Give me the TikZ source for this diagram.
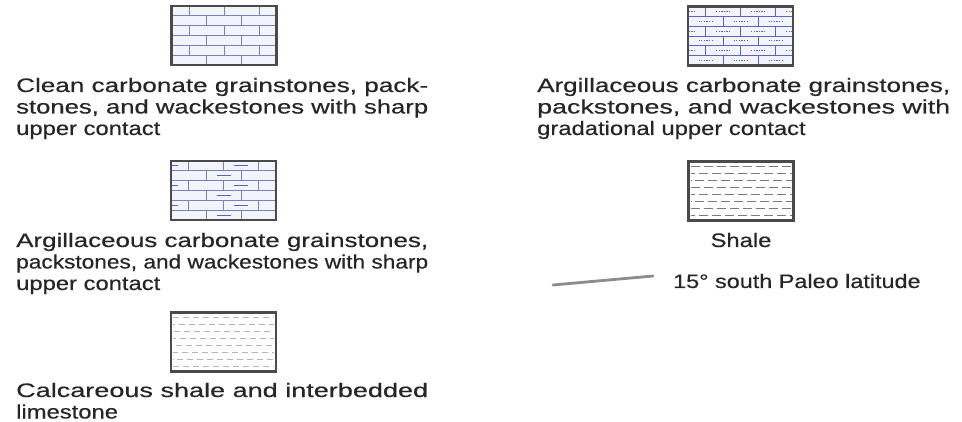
\documentclass[tikz,border=0pt]{standalone}
\usepackage{fontspec}
\setmainfont{Liberation Sans}
\usepackage{graphicx}
\usetikzlibrary{positioning}
\definecolor{legink}{HTML}{262626}
\definecolor{brickline}{HTML}{7A80B8}
\definecolor{clayline}{HTML}{5A64B8}
\definecolor{brickfill}{HTML}{F3F3FB}
\definecolor{boxframe}{HTML}{4A4A4A}
\definecolor{shaledash}{HTML}{7A7A7A}
\definecolor{calcdash}{HTML}{B4B4B4}
\definecolor{latgray}{HTML}{8C8C8C}

% text: Arial-like, stretched sideways as in the scan
\newcommand{\legfont}{\fontsize{19.5}{21.5}\selectfont\addfontfeatures{FakeBold=0.4}}
\newcommand{\wide}[1]{\scalebox{1.22}[1]{#1}}
\newcommand{\jline}[1]{\resizebox{\linewidth}{\height}{#1}}
\newcommand{\legtext}[2]{\parbox[t]{#1}{\legfont #2}}

% patterns, drawn in a 105 x 59 box, y downwards
\newcommand{\brickrows}[1]{%
  \foreach \r in {1,...,5}
    \draw[#1, line width=0.8pt] (0,\r*9.83) -- (105,\r*9.83);
  \foreach \r in {0,...,5} {
    \pgfmathsetmacro{\off}{mod(\r,2)*17.5+17.5}
    \foreach \k in {0,1,2}
      \draw[#1, line width=0.8pt] (\off+35*\k,\r*9.83) -- ++(0,9.83);
  }}
\newcommand{\claydash}{%
  \foreach \r in {0,...,5} {
    \pgfmathsetmacro{\off}{mod(\r,2)*17.5}
    \foreach \k in {0,1,2,3} {
      \pgfmathtruncatemacro{\odd}{mod(\r+\k,2)}
      \ifnum\odd=0
        \draw[clayline, line width=0.8pt] (\off-7+35*\k,\r*9.83+4.9) -- ++(14,0);
      \fi
    }
  }}
\newcommand{\claydots}{%
  \foreach \r in {0,...,5} {
    \pgfmathsetmacro{\off}{mod(\r,2)*17.5}
    \foreach \k in {0,1,2,3}
      \draw[clayline, line width=1.1pt, dash pattern=on 1.3pt off 1.3pt]
        (\off-7+35*\k,\r*9.83+4.9) -- ++(14,0);
  }}
\newcommand{\shalerows}[2]{%
  \foreach \r in {0,...,7}
    \draw[#1, line width=0.9pt, dash pattern=on #2pt off 4pt,
          dash phase=\r*4.3pt] (2,5+\r*7) -- (103,5+\r*7);}
\newcommand{\fillpattern}[2]{%
  \begin{scope}[shift={(#1.north west)}]
    \clip (0,0) rectangle (105,59);
    #2
  \end{scope}
  \draw[boxframe, line width=2.2pt] (#1.north west) rectangle (#1.south east);}

\begin{document}
\begin{tikzpicture}[
    x=1pt, y=-1pt,
    legbox/.style={
      inner sep=0pt, outer sep=0pt, fill=brickfill,
      minimum width=105pt, minimum height=59pt
    },
    legend/.style={anchor=base west, inner sep=0pt, text=legink},
    latitude/.style={draw=latgray, line width=2.8pt, line cap=round},
  ]
  \fill[white] (0,0) rectangle (962,422);
  \useasboundingbox (0,0) rectangle (962,422);

  % --- Left column ---
  \node[legbox] (clean) at (224,35.5) {};
  \fillpattern{clean}{\brickrows{brickline}}
  \node[legend] (cleantxt) at (16,92) {\legtext{412pt}{%
    \jline{Clean carbonate grainstones, pack-}\\
    \jline{stones, and wackestones with sharp}\\
    \wide{upper contact}}};

  \node[legbox] (argsharp) at (223.5,190.5) {};
  \fillpattern{argsharp}{\brickrows{brickline}\claydash}
  \node[legend] (argsharptxt) at (16,247) {\legtext{412pt}{%
    \jline{Argillaceous carbonate grainstones,}\\
    \jline{packstones, and wackestones with sharp}\\
    \wide{upper contact}}};

  \node[legbox, fill=white] (calc) at (223.5,342) {};
  \fillpattern{calc}{\shalerows{calcdash}{6}}
  \node[legend] (calctxt) at (16,397) {\legtext{412pt}{%
    \jline{Calcareous shale and interbedded}\\
    \wide{limestone}}};

  % --- Right column ---
  \node[legbox] (arggrad) at (740.5,36) {};
  \fillpattern{arggrad}{\brickrows{clayline}\claydots}
  \node[legend] (arggradtxt) at (537,92) {\legtext{413pt}{%
    \jline{Argillaceous carbonate grainstones,}\\
    \jline{packstones, and wackestones with}\\
    \wide{gradational upper contact}}};

  \node[legbox, fill=white] (shale) at (741,191) {};
  \fillpattern{shale}{\shalerows{shaledash}{9}}
  \node[legend, anchor=base] (shaletxt) at (741,247) {\wide{\legfont Shale}};

  % --- Paleo latitude ---
  \coordinate (latA) at (553,285);
  \coordinate (latB) at (653,276);
  \draw[latitude] (latA) -- (latB);
  \node[legend] (lattxt) at (673,288)
    {\scalebox{1.2}[1]{\legfont 15° south Paleo latitude}};
\end{tikzpicture}
\end{document}
